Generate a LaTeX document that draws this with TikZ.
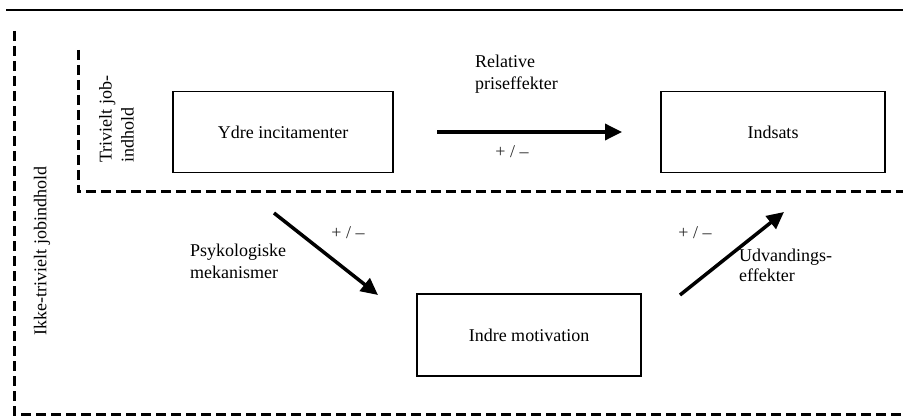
\documentclass[tikz,border=0pt]{standalone}
\usepackage{fontspec}
\setmainfont{Liberation Serif}
\usetikzlibrary{arrows.meta}
\begin{document}
\begin{tikzpicture}[x=1pt,y=-1pt,
  every node/.style={font=\fontsize{18}{22}\selectfont},
  boxnode/.style={draw,line width=1.8pt,minimum width=220pt,minimum height=81pt,inner sep=0pt},
  zone/.style={line width=3pt,dash pattern=on 10pt off 5pt},
  effect/.style={line width=3.5pt,-{Triangle[length=17pt,width=16pt]}},
  txt/.style={inner sep=0pt,align=left},
  sign/.style={inner sep=0pt,text=black!85}]
\useasboundingbox (0,0) rectangle (903,417);

% rule above the figure
\draw[line width=1.8pt] (6,10) -- (903,10);

% zones of job content
\draw[zone] (14,31) -- (14,414) -- (903,414);
\draw[zone] (78,50) -- (78,192) -- (903,192);
\node[txt,rotate=90] (outerlbl) at (42,251) {Ikke-trivielt jobindhold};
\node[txt,rotate=90,anchor=north west] (innerlbl) at (99,163) {Trivielt job-\\indhold};

% boxes
\node[boxnode] (ydre) at (283,132) {Ydre incitamenter};
\node[boxnode,minimum width=224pt] (indsats) at (773,132) {Indsats};
\node[boxnode,minimum width=224pt,minimum height=82pt] (indre) at (529,335) {Indre motivation};

% arrow end points
\coordinate (p1) at (437,132);
\coordinate (p2) at (622,132);
\coordinate (q1) at (274,213);
\coordinate (q2) at (378,295);
\coordinate (r1) at (680,295);
\coordinate (r2) at (784,212);

\draw[effect] (p1) -- (p2);
\draw[effect] (q1) -- (q2);
\draw[effect] (r1) -- (r2);

% labels
\node[txt,anchor=base west] (rel) at (475,90) {Relative\\priseffekter};
\node[txt,anchor=base west] (psy) at (190,278) {Psykologiske\\mekanismer};
\node[txt,anchor=base west,font=\fontsize{18}{20}\selectfont] (udv) at (739,281) {Udvandings-\\effekter};
\node[sign] (s1) at (512,152) {+ / –};
\node[sign] (s2) at (348,233) {+ / –};
\node[sign] (s3) at (695,233) {+ / –};
\end{tikzpicture}
\end{document}
